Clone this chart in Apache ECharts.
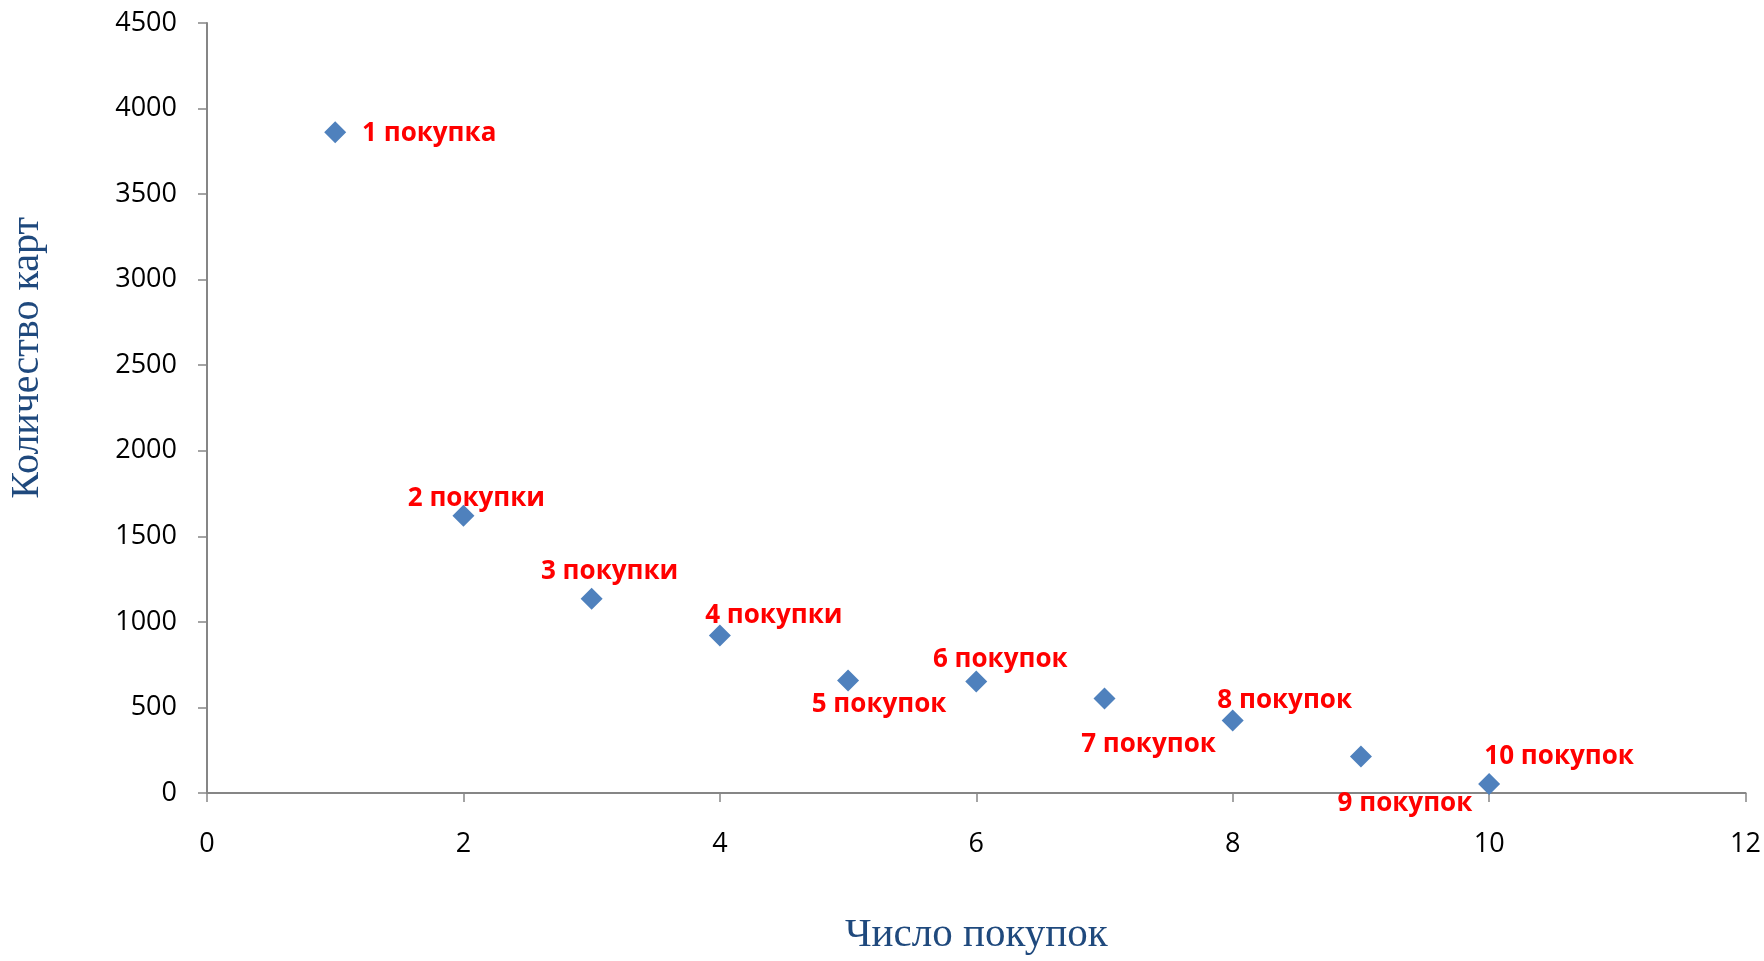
<!DOCTYPE html>
<html><head><meta charset="utf-8">
<script src="https://cdn.jsdelivr.net/npm/echarts@6/dist/echarts.min.js"></script>
<style>html,body{margin:0;padding:0;background:#fff}#c{width:1764px;height:961px}</style>
</head><body><div id="c"></div>
<script>
const purchases = [1, 2, 3, 4, 5, 6, 7, 8, 9, 10];
const cards = [3862, 1621, 1135, 920, 658, 651, 553, 423, 214, 52];
const labels = ['1 покупка', '2 покупки', '3 покупки', '4 покупки', '5 покупок', '6 покупок', '7 покупок', '8 покупок', '9 покупок', '10 покупок'];
const labelOffsets = [[94, 1], [13, -17], [18, -27], [54, -20], [31, 24], [24, -22], [44, 46], [52, -20], [44, 47], [70, -28]];

const chart = echarts.init(document.getElementById('c'));
chart.setOption({
  animation: false,
  grid: { left: 207, right: 17, top: 23, bottom: 161 },
  xAxis: {
    type: 'value', min: 0, max: 12, interval: 2,
    name: 'Число покупок', nameLocation: 'middle', nameGap: 122,
    nameTextStyle: { fontFamily: 'Liberation Serif', fontSize: 41, color: '#1F497D' },
    axisLine: { show: true, lineStyle: { color: '#868686', width: 2 } },
    axisTick: { show: true, length: 9, lineStyle: { color: '#868686', width: 1.5 } },
    axisLabel: { fontFamily: 'Open Sans', fontSize: 27, color: '#000', margin: 38, formatter: v => String(v) },
    splitLine: { show: false }
  },
  yAxis: {
    type: 'value', min: 0, max: 4500, interval: 500,
    axisLine: { show: true, lineStyle: { color: '#868686', width: 2 } },
    axisTick: { show: true, length: 9, lineStyle: { color: '#868686', width: 1.5 } },
    axisLabel: { fontFamily: 'Open Sans', fontSize: 27, color: '#000', margin: 30, formatter: v => String(v) },
    splitLine: { show: false }
  },
  graphic: [{
    type: 'text', left: 7, top: 217, rotation: Math.PI / 2,
    style: { text: 'Количество карт', fontFamily: 'Liberation Serif', fontSize: 40, fill: '#1F497D' }
  }],
  series: [{
    type: 'scatter',
    symbol: 'diamond', symbolSize: 22,
    itemStyle: { color: '#4F81BD', opacity: 1 },
    data: purchases.map((p, i) => ({
      value: [p, cards[i]],
      label: {
        show: true, formatter: labels[i], position: 'inside', offset: labelOffsets[i],
        color: '#FF0000', fontWeight: 'bold', fontFamily: 'Open Sans', fontSize: 26,
        align: 'center', verticalAlign: 'middle'
      }
    }))
  }]
});
</script></body></html>
